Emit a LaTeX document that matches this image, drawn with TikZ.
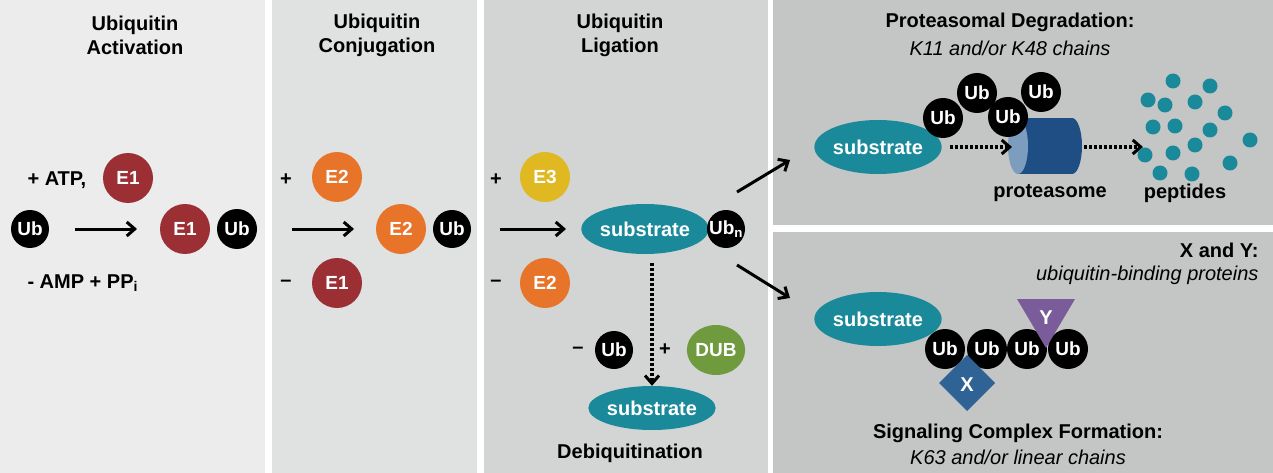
\documentclass[tikz,border=0pt]{standalone}
\usepackage{fontspec}
\setmainfont{Liberation Sans}
\usetikzlibrary{shapes.geometric,arrows.meta}
\definecolor{pA}{HTML}{ECECEC}\definecolor{pB}{HTML}{E0E1E1}\definecolor{pC}{HTML}{D3D4D4}\definecolor{pD}{HTML}{C4C5C5}
\definecolor{eone}{HTML}{9B2F34}\definecolor{etwo}{HTML}{E8742A}\definecolor{ethree}{HTML}{E0B821}
\definecolor{teal}{HTML}{1A8A9A}\definecolor{dub}{HTML}{6F9A3E}\definecolor{xb}{HTML}{2F6395}\definecolor{yp}{HTML}{7A5C9A}
\definecolor{prot}{HTML}{1F4E85}\definecolor{protl}{HTML}{7D9DBF}
\tikzset{
 base/.style={font=\bfseries\fontsize{20}{24}\selectfont},
 ttl/.style={base,align=center},
 it/.style={font=\itshape\fontsize{20}{24}\selectfont},
 ub/.style={circle,fill=black,text=white,minimum size=38pt,inner sep=0pt,font=\bfseries\fontsize{19}{22}\selectfont},
 enz/.style={circle,minimum size=50pt,inner sep=0pt,text=white,font=\bfseries\fontsize{19}{22}\selectfont},
 sub/.style={ellipse,fill=teal,text=white,minimum width=120pt,minimum height=50pt,inner sep=0pt,font=\bfseries\fontsize{20}{24}\selectfont},
 arr/.style={-{Straight Barb[length=8pt,width=14pt,line width=3pt]},line width=3pt},
 darr/.style={arr,dotted,line width=3.2pt},
 pep/.style={circle,fill=teal,minimum size=15pt,inner sep=0pt}
}
\begin{document}
\begin{tikzpicture}[x=1pt,y=-1pt]
\fill[white] (0,0) rectangle (1273,473);
\fill[pA] (0,0) rectangle (265,473);
\fill[pB] (272,0) rectangle (477,473);
\fill[pC] (484,0) rectangle (768,473);
\fill[pD] (773,0) rectangle (1273,225);
\fill[pD] (773,232) rectangle (1273,473);
% panel 1
\node[ttl] (t1) at (135,35) {Ubiquitin\\Activation};
\node[base,anchor=west] (atp) at (24,180) {+ ATP,};
\node[enz,fill=eone] (e1a) at (128,178) {E1};
\node[ub] (ub0) at (30,229) {Ub};
\node[enz,fill=eone] (e1b) at (185,229) {E1};
\node[ub,minimum size=40pt] (ub1) at (237,229) {Ub};
\node[base,anchor=west] (amp) at (24,283) {- AMP + PP$_\mathrm{\bf i}$};
\coordinate (a1s) at (75,229); \coordinate (a1e) at (137,229);
\draw[arr] (a1s) -- (a1e);
% panel 2
\node[ttl] (t2) at (377,35) {Ubiquitin\\Conjugation};
\node[base] (p2) at (286,180) {+};
\node[enz,fill=etwo] (e2a) at (337,177) {E2};
\node[enz,fill=etwo] (e2b) at (401,229) {E2};
\node[ub] (ub2) at (452,229) {Ub};
\node[base] (m2) at (286,283) {–};
\node[enz,fill=eone] (e1c) at (337,283) {E1};
\coordinate (a2s) at (292,229); \coordinate (a2e) at (354,229);
\draw[arr] (a2s) -- (a2e);
% panel 3
\node[ttl] (t3) at (620,35) {Ubiquitin\\Ligation};
\node[base] (p3) at (496,180) {+};
\node[enz,fill=ethree] (e3) at (545,177) {E3};
\node[sub] (s1) at (645,229) {substrate};
\node[ub] (ubn) at (726,229) {Ub$_\mathrm{\bf n}$};
\node[base] (m3) at (496,283) {–};
\node[enz,fill=etwo] (e2c) at (545,283) {E2};
\coordinate (a3s) at (500,229); \coordinate (a3e) at (566,229);
\draw[arr] (a3s) -- (a3e);
\node[base] (m4) at (578,350) {–};
\node[ub] (ub3) at (614,350) {Ub};
\node[base] (p4) at (665,350) {+};
\node[enz,ellipse,minimum width=56pt,fill=dub] (dub) at (716,350) {DUB};
\node[sub,minimum height=44pt] (s2) at (652,408) {substrate};
\node[base] (deb) at (630,453) {Debiquitination};
\coordinate (d1) at (652,263);
\draw[darr] (d1) -- (s2.north);
% branch arrows
\coordinate (b1s) at (737,192); \coordinate (b1e) at (790,160);
\coordinate (b2s) at (737,265); \coordinate (b2e) at (790,298);
\draw[arr] (b1s) -- (b1e);
\draw[arr] (b2s) -- (b2e);
% panel 4
\node[base] (t4) at (1010,22) {Proteasomal Degradation:};
\node[it] (t4b) at (1010,48) {K11 and/or K48 chains};
\node[sub,minimum width=126pt,minimum height=54pt] (s3) at (878,147) {substrate};
\fill[prot] (1018,118) rectangle (1072,174);
\fill[prot] (1072,146) ellipse (10 and 28);
\fill[protl] (1018,146) ellipse (10 and 28);
\node[ub,minimum size=40pt] (u4a) at (943,118) {Ub};
\node[ub,minimum size=40pt] (u4b) at (977,93) {Ub};
\node[ub,minimum size=40pt] (u4d) at (1041,92) {Ub};
\node[ub,minimum size=40pt] (u4c) at (1008,117) {Ub};
\coordinate (pa) at (950,147); \coordinate (pb) at (1012,147);
\coordinate (pc) at (1084,147); \coordinate (pd) at (1143,147);
\draw[darr] (pa) -- (pb);
\draw[darr] (pc) -- (pd);
\node[base] (prl) at (1050,193) {proteasome};
\node[base] (pepl) at (1185,193) {peptides};
\foreach \i/\x/\y in {1/1173/81,2/1210/86,3/1148/100,4/1165/105,5/1195/102,6/1225/113,7/1153/127,8/1175/126,9/1210/130,10/1250/140,11/1145/155,12/1173/153,13/1195/145,14/1230/163,15/1160/173,16/1192/174}
  \node[pep] (pp\i) at (\x,\y) {};
% panel 5
\node[base,anchor=east] (xy) at (1262,250) {X and Y:};
\node[it,anchor=east] (xyb) at (1262,275) {ubiquitin-binding proteins};
\node[sub,minimum width=126pt,minimum height=54pt] (s4) at (878,319) {substrate};
\node[ub,minimum size=40pt] (v1) at (945,349) {Ub};
\node[ub,minimum size=40pt] (v2) at (987,349) {Ub};
\node[ub,minimum size=40pt] (v3) at (1027,349) {Ub};
\node[ub,minimum size=40pt] (v4) at (1068,349) {Ub};
\fill[xb] (967,355) -- (995,383) -- (967,411) -- (939,383) -- cycle;
\node[base,text=white] (xl) at (967,385) {X};
\fill[yp] (1017,299) -- (1075,299) -- (1046,348) -- cycle;
\node[base,text=white] (yl) at (1046,318) {Y};
\node[base] (t5) at (1018,433) {Signaling Complex Formation:};
\node[it] (t5b) at (1018,457) {K63 and/or linear chains};
\end{tikzpicture}
\end{document}
